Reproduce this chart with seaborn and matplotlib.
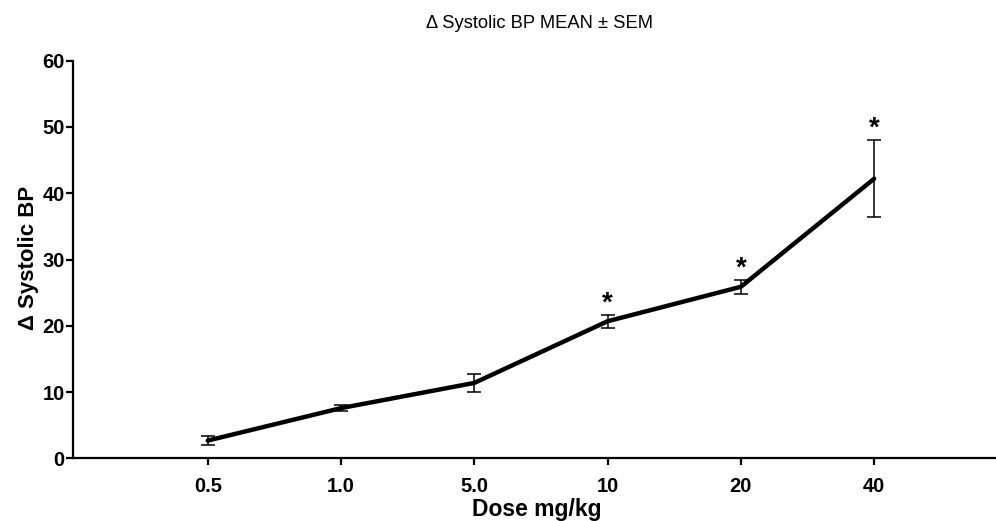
import numpy as np
import pandas as pd
import matplotlib
matplotlib.use("Agg")
import matplotlib.pyplot as plt
import seaborn as sns

# ---- data ----
doses = ["0.5", "1.0", "5.0", "10", "20", "40"]
mean_bp = [2.7, 7.6, 11.4, 20.7, 25.9, 42.2]
sem_bp = [0.7, 0.45, 1.35, 0.95, 1.05, 5.85]
significant = [False, False, False, True, True, True]
y_ticks = [0, 10, 20, 30, 40, 50, 60]

sns.set_style("ticks")
plt.rcParams["font.family"] = ["Liberation Sans", "DejaVu Sans"]

df = pd.DataFrame({"dose": doses, "mean": mean_bp, "sem": sem_bp})

fig = plt.figure(figsize=(9.96, 5.21), dpi=100)
ax = fig.add_axes([0.0733, 0.12, 0.9267, 0.7635])

sns.lineplot(data=df, x="dose", y="mean", sort=False, color="black",
             linewidth=3.2, ax=ax, legend=False)
ax.errorbar(df["dose"], df["mean"], yerr=df["sem"], fmt="none",
            ecolor="black", elinewidth=1.1, capsize=5, capthick=1.1, zorder=1)

for i, (m, s, sig) in enumerate(zip(mean_bp, sem_bp, significant)):
    if sig:
        ax.text(i, m + s - 0.2, "*", ha="center", va="bottom",
                fontsize=20, fontweight="bold", color="black")

ax.set_xlim(-1.011, 5.914)
ax.set_ylim(0, 60)
ax.set_yticks(y_ticks)

for sp in ["top", "right"]:
    ax.spines[sp].set_visible(False)
for sp in ["left", "bottom"]:
    ax.spines[sp].set_linewidth(1.6)
    ax.spines[sp].set_color("black")

ax.tick_params(axis="both", direction="out", length=5, width=1.6,
               colors="black", labelsize=14.5)
ax.tick_params(axis="y", pad=1)
ax.tick_params(axis="x", pad=8)
for lab in ax.get_xticklabels() + ax.get_yticklabels():
    lab.set_fontweight("bold")
    lab.set_color("black")

ax.set_xlabel("Dose mg/kg", fontsize=16.5, fontweight="bold", color="black")
ax.xaxis.set_label_coords(0.503, -0.100)
ax.set_ylabel("\u0394 Systolic BP", fontsize=16, fontweight="bold", color="black")
ax.yaxis.set_label_coords(-0.037, 0.504)

fig.text(540 / 996, 1 - 24 / 521, "\u0394 Systolic BP MEAN \u00b1 SEM",
         ha="center", va="center", fontsize=13.2, color="black")

fig.savefig("out.png", dpi=100, facecolor="white")
